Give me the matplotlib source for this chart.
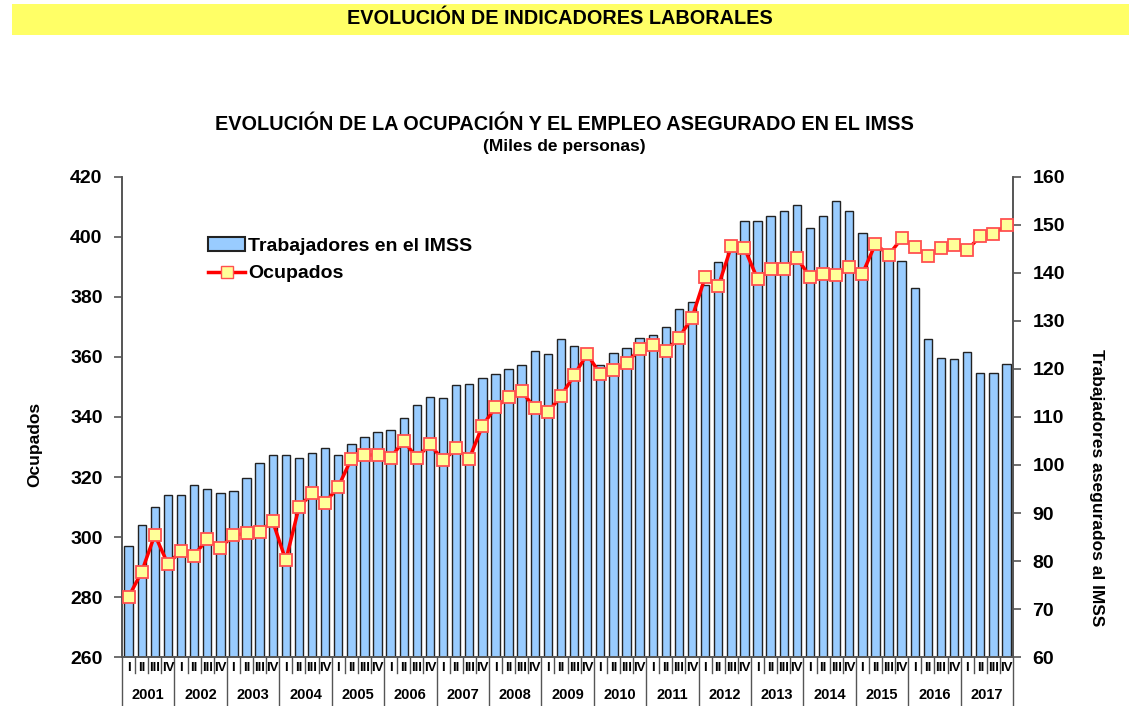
import matplotlib.pyplot as plt
import numpy as np
from matplotlib.patches import Patch, Rectangle
from matplotlib.lines import Line2D
import matplotlib.transforms as mtransforms

plt.rcParams['font.family'] = ['Liberation Sans', 'DejaVu Sans']
plt.rcParams['font.weight'] = 'bold'

# ----- Data -----
years = [str(y) for y in range(2001, 2018)]
quarters = ["I", "II", "III", "IV"]

# Trabajadores en el IMSS (right axis)
imss = [83.1, 87.6, 91.2, 93.8, 93.8, 95.9, 95.1, 94.2, 94.6, 97.3, 100.5, 102.1,
        102.1, 101.5, 102.4, 103.6, 102.1, 104.3, 105.8, 106.9, 107.3, 109.8, 112.6, 114.1,
        113.9, 116.6, 116.8, 118.2, 119.0, 119.9, 120.9, 123.8, 123.1, 126.3, 124.8, 123.1,
        120.9, 123.4, 124.3, 126.4, 127.0, 128.7, 132.6, 133.9, 137.5, 142.2, 145.6, 150.8,
        150.8, 151.9, 153.0, 154.1, 149.3, 151.8, 155.1, 152.9, 148.3, 145.0, 143.1, 142.4,
        136.9, 126.3, 122.3, 122.1, 123.6, 119.2, 119.2, 121.1]

# Ocupados (left axis)
ocupados = [280.0, 288.4, 300.7, 291.0, 295.4, 293.8, 299.4, 296.4, 300.6, 301.2, 301.7, 305.2,
            292.2, 309.9, 314.6, 311.4, 316.7, 326.1, 327.4, 327.3, 326.4, 332.1, 326.3, 331.0,
            325.5, 329.5, 326.1, 337.0, 343.3, 346.5, 348.6, 343.0, 341.5, 347.0, 353.9, 361.0,
            354.2, 355.5, 358.0, 362.6, 364.0, 362.0, 366.4, 373.1, 386.6, 383.5, 396.9, 396.3,
            386.0, 389.2, 389.2, 393.0, 386.8, 387.6, 387.2, 390.0, 387.7, 397.7, 394.0, 399.5,
            396.8, 393.6, 396.4, 397.4, 395.6, 400.3, 401.1, 403.9]

x = np.arange(len(imss))

# ----- Figure -----
fig = plt.figure(figsize=(11.29, 7.06), dpi=100)
ax = fig.add_axes([0.1081, 0.0694, 0.7892, 0.6799])
ax2 = ax.twinx()

# Bars on right axis
ax2.bar(x, imss, width=0.64, color='#99CCFF', edgecolor='#222222', linewidth=1.0, zorder=2)
ax2.set_ylim(60, 160)
ax2.set_yticks(range(60, 161, 10))

# Line on left axis, drawn above bars
ax.set_zorder(ax2.get_zorder() + 1)
ax.patch.set_visible(False)
ax.plot(x, ocupados, color='#FF0000', linewidth=2.5, marker='s', markersize=8,
        markerfacecolor='#FFFF99', markeredgecolor='#FF5050', markeredgewidth=1.3, zorder=3)
ax.set_ylim(260, 420)
ax.set_yticks(range(260, 421, 20))
ax.set_xlim(-0.5, len(imss) - 0.5)
ax.set_xticks([])

spine_col = '#555555'
for a in (ax, ax2):
    a.spines['top'].set_visible(False)
    for s in ['left', 'right', 'bottom']:
        a.spines[s].set_color(spine_col)
        a.spines[s].set_linewidth(1.2)
    a.tick_params(axis='y', direction='out', length=6, width=1.2, color=spine_col,
                  labelsize=14, pad=8)

for lab in ax.get_yticklabels() + ax2.get_yticklabels():
    lab.set_fontweight('bold')

ax.set_ylabel("Ocupados", fontsize=12.5, fontweight='bold')
ax.yaxis.set_label_coords(-0.089, 0.442)
ax2.set_ylabel("Trabajadores asegurados al IMSS", fontsize=12.5, fontweight='bold',
               rotation=-90, va='center')
ax2.yaxis.set_label_coords(1.094, 0.352)

# ----- Category axis: quarters and years -----
trans = mtransforms.blended_transform_factory(ax.transData, ax.transAxes)
for k in range(len(imss) + 1):
    long_line = (k % 4 == 0)
    y_end = -0.102 if long_line else -0.034
    ax.plot([k - 0.5, k - 0.5], [0, y_end], color=spine_col, linewidth=1.0,
            transform=trans, clip_on=False)
for i in range(len(imss)):
    ax.text(i, -0.022, quarters[i % 4], transform=trans, ha='center', va='center',
            fontsize=9.5, fontweight='bold')
for j, yr in enumerate(years):
    ax.text(j * 4 + 1.5, -0.079, yr, transform=trans, ha='center', va='center',
            fontsize=10.5, fontweight='bold')

# ----- Legend -----
handles = [
    Patch(facecolor='#99CCFF', edgecolor='#222222', linewidth=1.5, label='Trabajadores en el IMSS'),
    Line2D([0], [0], color='#FF0000', linewidth=2.5, marker='s', markersize=8,
           markerfacecolor='#FFFF99', markeredgecolor='#FF5050', label='Ocupados'),
]
ax.legend(handles=handles, loc='upper left', bbox_to_anchor=(0.097, 0.874), frameon=False,
          handlelength=1.9, handletextpad=0.15, borderaxespad=0, borderpad=0,
          labelspacing=0.5, prop={'weight': 'bold', 'size': 14})

# ----- Titles -----
fig.patches.append(Rectangle((12 / 1129, 1 - 35 / 706), 1 - 12 / 1129, 31 / 706,
                             transform=fig.transFigure, facecolor='#FFFF66',
                             edgecolor='none', zorder=0))
fig.text(0.496, 1 - 19 / 706, "EVOLUCIÓN DE INDICADORES LABORALES", ha='center', va='center',
         fontsize=14.3, fontweight='bold')
fig.text(0.5, 1 - 125 / 706, "EVOLUCIÓN DE LA OCUPACIÓN Y EL EMPLEO ASEGURADO EN EL IMSS",
         ha='center', va='center', fontsize=14.3, fontweight='bold')
fig.text(0.5, 1 - 146 / 706, "(Miles de personas)", ha='center', va='center',
         fontsize=12.5, fontweight='bold')

plt.savefig("out.png", dpi=100)
